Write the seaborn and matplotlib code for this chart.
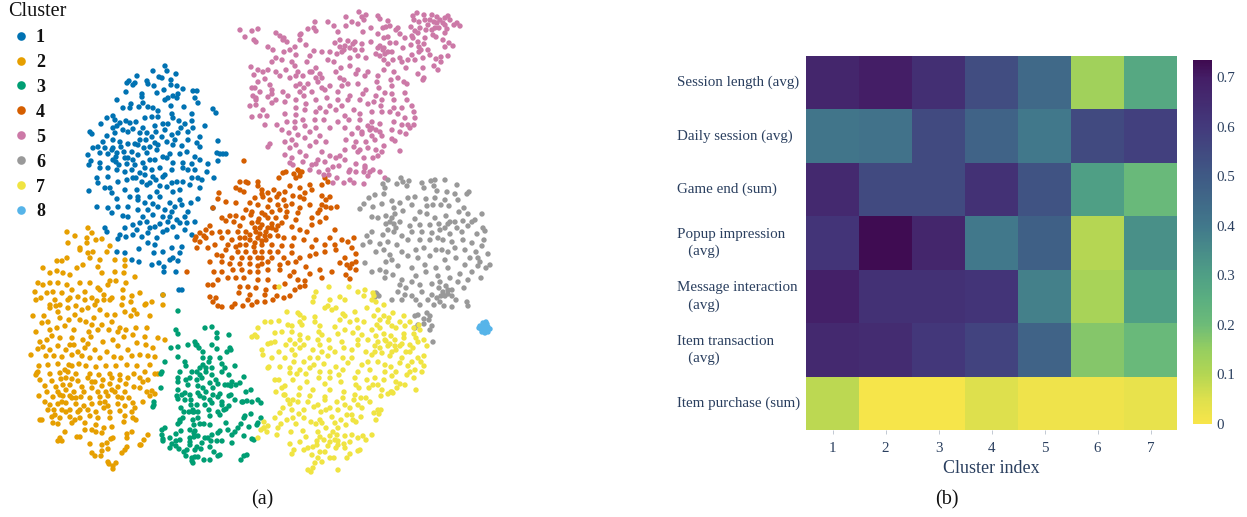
import pandas as pd
import numpy as np
import matplotlib.pyplot as plt
import seaborn as sns
from matplotlib.colors import LinearSegmentedColormap

sns.set_theme(style="white")
plt.rcParams['font.family'] = ['Liberation Serif', 'DejaVu Serif']

TEXT = "#2a3f5f"

# t-SNE points (image pixel coordinates)
cluster_1 = [(165,66),(153,71),(167,71),(176,74),(137,76),(159,77),(162,78),(171,80),(147,81),(129,81),(127,83),(135,83),(133,85),(148,84),(154,86),(177,86),(171,85),(164,90),(126,92),(183,89),(193,91),(197,91),(142,94),(142,97),(157,93),(173,96),(178,94),
(117,100),(123,108),(131,104),(130,108),(143,103),(139,107),(148,107),(153,108),(158,111),(165,100),(168,98),(171,106),(177,98),(184,107),(195,98),(198,103),(213,109),(216,113),
(113,116),(115,120),(107,118),(101,124),(145,118),(152,117),(158,117),(172,114),(173,118),(192,114),(120,123),(117,126),(126,121),(130,123),(136,122),(155,126),(163,124),(179,121),(185,124),(192,121),(205,126),(90,132),(92,134),(113,128),(115,133),(123,130),(128,132),(133,129),(143,128),(140,133),(147,133),(156,132),(165,130),(193,128),(188,132),(178,133),(172,135),(200,137),
(107,136),(103,142),(113,140),(120,142),(128,144),(135,144),(138,145),(144,148),(150,147),(155,143),(162,137),(173,145),(182,146),(188,140),(197,143),(200,147),(218,141),(93,148),(98,147),(105,148),(113,148),(88,155),(100,153),(108,154),(117,153),(124,152),(132,152),(138,155),(147,153),(157,150),(163,157),(170,154),(180,154),(187,152),(195,157),(217,153),(220,154),(223,154),(226,154),(200,160),(218,161),(91,161),(89,165),(100,163),(113,160),(116,162),(125,158),
(127,164),(135,165),(143,163),(155,160),(167,158),(173,163),(183,163),(192,164),(208,164),(100,168),(108,168),(117,170),(132,170),(140,173),(152,170),(160,168),(172,170),(183,168),(188,170),(195,170),(207,172),(97,178),(98,183),(108,177),(118,182),(127,180),(133,178),(145,175),(153,177),(163,177),(177,182),(183,182),(192,178),(198,178),(202,180),(214,178),
(105,188),(110,188),(112,193),(125,190),(137,190),(147,185),(157,192),(167,187),(173,192),(180,190),(190,185),(200,188),(89,191),(117,199),(130,197),(138,197),(150,197),(160,197),(170,203),(180,200),(191,203),(198,199),(97,207),(108,208),(118,207),(128,207),(138,210),(148,210),(158,207),(172,212),(182,205),(213,208),
(112,213),(123,216),(128,217),(143,217),(153,215),(163,217),(170,217),(177,220),(185,217),(105,228),(107,232),(133,225),(137,230),(147,222),(155,227),(163,232),(173,227),(187,223),(195,222),(118,239),(126,237),(133,235),(142,237),(148,233),(157,238),(167,230),(177,237),(185,230),(192,235),
(117,252),(125,253),(132,260),(139,262),(139,249),(148,243),(155,245),(154,253),(163,252),(172,248),(182,247),(173,258),(170,260),(180,253),(152,265),(159,263),(164,267),(164,272),(176,272),(178,261),(179,290),(182,290),(163,295),
(112,150),(116,157),(121,147),(128,158),(133,160),(119,165),(125,172),(136,178),(142,182),(150,183),(156,180),(160,186),(140,140),(146,140),(152,137),(158,145),(167,142),(175,140),(181,128),(168,124),(150,160),(145,168),(165,175),(172,183),(138,200),(145,203),(153,204),(165,210),(175,207),(188,212),(140,223),(150,228),(160,224),(168,222),(180,223),(125,228),(120,235)]

cluster_2 = [(67,232),(75,236),(68,243),(88,228),(92,233),(87,238),(87,243),(96,240),(102,239),(110,246),(80,248),
(67,258),(57,261),(62,261),(88,253),(93,252),(80,250),(107,252),(115,260),(100,260),(125,260),(125,266),(98,267),(90,258),(43,268),(50,273),(57,271),(63,273),(77,268),(83,265),(115,272),(124,273),(135,277),(70,275),(102,273),
(38,283),(43,285),(50,283),(58,283),(67,285),(80,283),(90,283),(98,288),(110,281),(116,281),(126,283),(123,290),(35,292),(47,293),(53,292),(62,293),(72,290),(85,292),(104,295),(36,300),(41,298),(70,298),(78,297),(92,298),(110,300),(123,298),(132,296),(140,293),
(50,305),(56,306),(68,300),(76,306),(97,301),(104,300),(112,298),(122,305),(131,302),(146,304),(152,302),(163,305),(33,316),(44,316),(50,308),(58,312),(68,308),(82,310),(88,308),(100,310),(107,315),(115,315),(125,312),(134,310),(145,305),(163,295),
(42,323),(48,322),(60,318),(69,320),(80,320),(86,322),(94,318),(102,325),(112,322),(120,328),(131,316),(137,314),(150,316),(36,332),(50,330),(57,328),(65,326),(74,330),(89,332),(98,330),(109,330),(118,332),(126,330),(136,328),(147,328),(40,342),(47,340),(52,336),(60,338),(72,338),(83,340),(91,337),(103,342),(113,340),(124,337),(133,335),(145,337),(158,338),
(38,349),(43,347),(50,350),(58,346),(66,350),(74,345),(85,348),(95,350),(107,352),(118,346),(128,350),(137,343),(146,345),(153,348),(165,340),(31,355),(46,356),(54,356),(62,357),(72,355),(82,356),(90,358),(100,358),(114,357),(121,358),(132,356),(140,355),(148,356),(155,357),
(39,366),(48,365),(58,364),(69,365),(79,364),(86,366),(96,367),(106,366),(116,366),(127,365),(137,366),(150,365),(38,372),(50,374),(60,373),(68,372),(76,374),(90,374),(99,375),(110,374),(120,375),(134,374),(145,372),(37,373),(36,375),(155,374),(158,374),
(40,380),(52,381),(61,379),(66,378),(72,379),(78,381),(88,378),(92,382),(103,380),(112,378),(120,380),(128,378),(140,378),(148,380),(45,386),(56,387),(63,385),(70,385),(82,387),(92,388),(102,386),(110,384),(118,387),(126,384),(134,387),(143,382),
(47,392),(58,392),(66,390),(74,392),(84,392),(98,392),(106,392),(115,392),(125,392),(140,388),(39,396),(53,397),(63,396),(72,398),(81,397),(90,398),(100,397),(108,396),(118,397),(129,398),(152,391),(155,394),(147,392),
(45,402),(50,405),(58,404),(66,403),(76,404),(84,406),(92,404),(100,403),(108,406),(118,404),(125,406),(133,403),(143,402),(150,396),(54,410),(62,410),(70,410),(80,410),(96,412),(104,408),(110,412),(120,411),(135,408),(42,420),(52,417),(60,418),(70,417),(80,418),(90,416),(98,418),(110,418),(125,416),(132,412),(136,420),(40,420),
(53,423),(58,424),(72,423),(75,420),(85,423),(96,425),(124,422),(133,418),(65,432),(92,430),(96,432),(102,433),(104,428),(112,427),(127,438),(127,434),(132,432),(148,435),(60,438),(58,441),(62,441),(77,437),(80,437),(111,439),(113,438),(144,440),(140,445),(141,445),
(90,444),(102,445),(107,443),(102,451),(108,449),(125,450),(127,447),(122,453),(92,453),(95,456),(101,456),(108,462),(116,463),(113,466),(113,469),(109,464),
(55,300),(60,305),(85,300),(100,290),(108,285),(95,305),(75,315),(92,325),(70,345),(78,352),(88,344),(65,370),(72,366),(95,382),(62,402),(70,396),(78,412),(88,410),(66,412),(76,398),(112,390),(122,398),(105,402),(85,430),(55,415),(60,395),(48,410)]

cluster_3 = [(205,328),(217,333),(178,334),(171,348),(178,347),(195,342),(217,338),(229,335),(178,357),(188,345),(197,345),(212,345),(231,350),(199,348),(203,352),(217,349),(165,362),(196,345),(203,358),(210,358),(220,358),(227,352),(186,366),(185,362),(203,365),(209,362),(222,364),(230,348),
(200,368),(206,368),(212,368),(197,372),(192,372),(225,368),(235,366),(200,375),(206,372),(212,375),(222,372),(180,372),(178,378),(186,380),(162,372),(161,374),(190,378),(197,380),(202,378),(216,380),(229,375),(244,377),(178,382),(188,385),(198,386),(210,383),(218,384),(232,382),(236,385),(161,388),(178,390),(185,393),(203,388),(213,388),(225,385),(231,386),(251,390),(240,383),
(190,395),(198,393),(206,392),(213,395),(220,394),(228,385),(177,396),(182,395),(191,400),(200,396),(204,398),(210,400),(218,397),(229,396),(231,395),(246,392),(178,399),(185,400),(191,405),(197,405),(205,405),(212,403),(222,402),(235,400),(243,402),(252,402),(258,400),(181,408),(184,412),(193,410),(198,412),(209,410),(218,412),(224,410),(222,405),(229,406),(242,402),(247,401),(261,403),(189,412),(193,412),
(180,420),(183,418),(194,412),(198,418),(193,420),(210,416),(220,415),(226,409),(245,416),(244,418),(251,414),(261,418),(258,423),(178,424),(180,422),(200,424),(204,424),(210,425),(226,423),(241,424),(249,427),(257,425),(194,425),(195,431),(190,430),(198,436),(190,438),(194,437),(181,431),(176,434),(205,438),(212,435),(235,432),(238,428),(218,433),(244,436),
(165,428),(162,430),(162,435),(163,439),(180,440),(190,442),(194,433),(211,441),(220,431),(228,430),(232,435),(170,438),(176,441),(172,444),(179,449),(190,445),(197,447),(202,443),(208,438),(217,441),(222,441),(232,443),(252,439),(254,440),(163,441),(170,448),(176,446),(187,450),(195,450),(201,449),(210,447),(214,452),(220,455),(241,460),(244,456),(247,455),(184,452),(186,456),(192,458),(198,457),(204,460),(210,460),(218,456),(192,461),(193,463),(195,457),(154,402),(154,405),(153,407),(212,327),(178,311),(176,330)]

cluster_4 = [(244,161),(283,173),(286,172),(294,174),(300,172),(296,178),(302,172),(298,170),(325,178),(300,176),(240,182),(246,182),(248,183),(236,188),(240,190),(258,182),(258,186),(262,190),(274,190),(279,178),(290,186),(310,185),(322,185),(328,182),(244,192),(262,194),(268,193),(279,194),(285,192),(305,193),(312,190),(300,188),(219,193),(218,199),
(255,198),(263,197),(270,200),(277,197),(284,200),(293,196),(300,197),(304,199),(322,196),(322,205),(330,197),(226,202),(236,203),(250,203),(258,205),(268,207),(278,205),(292,204),(300,208),(310,205),(326,200),(213,208),(246,210),(252,212),(262,213),(272,212),(287,212),(298,213),(320,210),(326,207),(337,207),(331,208),(230,216),(236,216),(243,218),(251,215),(259,219),(268,218),(276,218),(286,217),(296,220),(312,218),(318,213),
(234,222),(240,226),(252,223),(262,225),(272,224),(282,223),(292,227),(312,225),(320,222),(326,218),(222,218),(226,221),(210,226),(206,230),(200,233),(196,237),(204,236),(212,233),(220,232),(228,232),(238,232),(246,232),(256,232),(266,232),(276,230),(300,230),(307,232),(335,230),(206,238),(195,240),(222,238),(232,240),(240,238),(250,240),(258,238),(266,240),(284,238),(294,238),(304,240),(316,240),(330,238),(342,240),(354,238),
(228,245),(236,247),(246,245),(254,247),(262,245),(272,245),(282,246),(292,246),(312,247),(325,245),(335,245),(348,242),(352,248),(215,245),(208,248),(197,248),(200,242),(226,250),(238,252),(246,252),(255,252),(262,252),(270,252),(278,252),(292,253),(316,254),(325,252),(336,250),(356,254),(217,255),(222,256),(232,258),(242,258),(250,258),(258,258),(272,258),(284,258),(300,258),(310,256),(345,258),(356,262),(210,262),(222,262),(230,264),(240,264),(250,264),(258,266),(262,264),(280,265),(288,263),(296,262),(306,267),(340,263),(347,265),(214,272),(222,272),(233,270),(242,270),(250,272),(258,272),(268,270),(280,270),(294,272),(320,270),(332,272),(350,268),(356,270),
(218,280),(228,278),(236,278),(244,278),(258,280),(268,280),(290,276),(298,280),(310,274),(322,278),(346,275),(350,279),(352,264),(240,287),(248,287),(256,288),(266,290),(275,287),(285,284),(295,290),(305,286),(213,285),(208,285),(239,293),(250,295),(265,295),(277,296),(284,298),(290,296),(210,297),(216,298),(248,300),(257,302),(265,302),(273,300),(300,287),(305,281),(213,302),(218,306),(222,307),(232,307),(235,304),(243,306),(252,305),(187,272),
(255,228),(260,228),(265,236),(270,236),(262,241),(255,243),(260,234),(272,228),(278,236),(250,235),(258,222),(268,228),(280,210),(286,206),(265,215),(278,226),(245,238),(240,245),(262,258),(268,262)]

cluster_5 = [(359,12),(362,17),(366,15),(378,16),(380,19),(388,21),(346,17),(413,16),(417,13),(414,20),(419,22),(424,15),(432,15),(437,17),(445,18),(448,16),(434,22),(428,25),(420,28),(426,30),(437,23),(443,23),(450,20),(457,23),(460,26),(454,25),(447,29),(439,28),(445,33),(433,35),(425,38),(418,33),(412,36),(411,27),(415,31),(424,44),(428,50),(436,37),(443,40),(449,43),(453,46),(413,38),(419,47),(421,50),
(315,22),(328,22),(334,26),(346,26),(352,22),(358,24),(364,20),(371,28),(383,28),(386,27),(390,26),(398,28),(240,30),(252,31),(258,29),(254,40),(256,42),(301,34),(308,29),(314,28),(316,31),(338,32),(363,32),(378,34),(384,38),(388,37),(405,38),(400,34),(396,30),(411,45),(418,42),(245,37),(276,33),(280,36),(284,38),(300,40),(306,45),(335,43),(340,40),(348,41),(355,42),(362,44),(371,42),(380,46),(390,43),(396,43),(403,48),(412,55),(419,52),(423,58),(430,55),(436,59),(445,47),(441,57),(448,56),
(283,40),(287,42),(300,35),(295,47),(314,51),(342,52),(353,44),(362,50),(378,48),(392,52),(400,58),(408,60),(415,60),(423,68),(434,66),(441,62),(268,47),(273,50),(284,52),(290,50),(296,55),(310,56),(322,52),(330,52),(337,54),(344,50),(350,58),(358,56),(366,58),(376,54),(384,60),(393,60),(402,62),(272,62),(276,58),(282,60),(292,62),(295,66),(307,62),(316,68),(328,60),(334,62),(341,68),(350,66),(358,70),(368,72),(384,70),(388,64),(394,72),(406,68),(418,74),(423,80),(424,78),(438,70),
(251,67),(258,70),(263,72),(268,70),(276,72),(286,70),(298,72),(303,76),(312,72),(320,74),(340,78),(344,80),(356,74),(365,76),(378,76),(391,80),(392,86),(398,78),(404,82),(407,84),(254,75),(258,82),(265,79),(270,85),(280,76),(290,78),(300,84),(308,84),(318,82),(322,78),(336,72),(342,86),(348,84),(358,84),(366,90),(379,88),(272,90),(272,94),(283,92),(296,86),(300,92),(312,92),(325,90),(338,92),(350,96),(363,94),(377,82),(376,96),(382,100),(255,88),(256,98),(260,92),(268,97),(276,100),(288,96),(296,100),(304,96),(316,100),(327,98),(338,100),(348,100),(360,100),(374,102),(385,93),(392,94),(394,100),(405,93),(407,100),(256,105),(250,106),(256,100),
(253,96),(252,88),(263,110),(267,116),(272,103),(285,102),(296,108),(306,104),(320,108),(330,106),(342,106),(354,110),(368,104),(381,106),(394,108),(402,108),(412,106),(414,112),(415,118),(285,114),(296,115),(305,110),(316,112),(326,112),(336,110),(345,116),(360,114),(372,112),(382,112),(390,112),(398,114),(405,118),(414,125),(287,122),(295,122),(303,120),(315,120),(324,120),(338,122),(349,120),(360,120),(372,122),(380,124),(394,122),(402,125),(408,125),(410,128),(265,125),(252,117),(260,116),
(277,125),(282,130),(295,128),(305,126),(316,128),(330,128),(345,128),(358,128),(370,130),(380,132),(392,130),(400,132),(406,134),(289,133),(298,135),(310,132),(320,136),(352,134),(362,134),(372,136),(382,136),(392,139),(285,142),(292,140),(296,145),(305,138),(316,142),(326,142),(346,140),(356,142),(366,142),(375,140),(395,141),(270,144),(268,147),(345,150),(354,147),(360,150),(368,148),(376,150),(384,146),(290,148),(300,152),(310,146),(322,152),(340,156),(358,152),(364,158),(382,152),(400,151),
(285,155),(292,158),(306,156),(318,160),(330,156),(345,160),(356,164),(365,166),(373,158),(378,156),(303,162),(316,164),(325,162),(336,158),(312,165),(339,166),(350,170),(356,172),(365,168),(370,172),(373,170),(290,163),(293,165),(310,170),(319,172),(328,170),(333,167),(337,178),(324,175),(329,175),(350,180),(364,172),(368,176),(349,172),(344,183),(333,183),(354,183),(364,184),(380,172),(385,178),
(345,46),(350,48),(355,50),(340,47),(383,50),(385,54),(380,56),(388,52),(384,48),(425,20),(430,20),(435,28),(440,20),(432,30),(445,25),(310,72),(316,78),(322,88),(330,86),(296,76),(304,88),(362,132),(368,126),(372,128),(376,130)]

cluster_6 = [(385,188),(383,184),(388,180),(397,184),(401,178),(407,186),(403,182),(409,181),(431,181),(435,180),(445,180),(457,185),(422,183),(424,188),(434,186),(437,191),(447,192),(455,194),(467,194),(469,192),(369,198),(375,195),(384,194),(392,201),(408,198),(415,197),(426,199),(435,198),(445,200),(458,200),(464,208),(360,209),(364,204),(373,207),(382,204),(394,208),(400,203),(412,205),(420,212),(427,206),(433,205),(441,205),(449,206),(459,212),(468,214),
(372,217),(378,218),(386,216),(395,214),(403,211),(415,219),(427,214),(435,218),(446,216),(455,222),(463,221),(475,220),(482,214),(386,224),(394,224),(400,222),(410,226),(420,225),(430,225),(439,224),(448,224),(457,228),(468,226),(472,222),(483,228),(485,231),(367,236),(372,232),(383,235),(394,232),(402,236),(412,232),(422,232),(432,233),(440,230),(450,234),(462,232),(477,234),(363,245),(370,242),(380,244),(388,242),(397,245),(408,240),(420,240),(430,240),(443,240),(452,242),(463,240),(472,243),(482,246),(484,240),
(376,252),(384,250),(390,255),(402,252),(416,250),(424,248),(436,250),(448,252),(455,248),(465,250),(476,252),(386,262),(392,260),(408,256),(418,258),(430,256),(445,260),(456,258),(470,258),(478,258),(488,254),(480,262),(490,265),(365,263),(372,272),(380,270),(386,272),(398,266),(412,268),(425,265),(436,268),(448,268),(465,265),(478,266),(486,268),(385,278),(393,275),(402,280),(416,276),(426,272),(438,276),(450,278),(460,274),(472,272),(481,278),(400,285),(406,288),(412,282),(420,285),(432,284),(440,282),(448,290),(458,282),(468,280),(464,288),(405,295),(412,296),(416,300),(422,292),(432,295),(439,288),(445,296),(452,296),(402,300),(392,300),(398,292),(379,296),(377,294),(420,305),(428,300),(434,305),(441,296),(427,313),(418,315),(424,319),(429,320),(424,324),(415,316),(418,325),(430,316),(432,326),(430,330),(415,328),(433,342),(376,293),(375,297),(456,300),(452,307),(468,306),(467,302),
(446,286),(448,294),(443,292),(452,290),(437,298),(440,302),(444,306),(390,222),(396,228),(392,218),(388,230),(450,222),(445,228),(438,238),(442,250)]

cluster_7 = [(329,287),(349,287),(358,292),(365,290),(364,296),(374,296),(373,293),(372,300),(376,302),(279,287),(314,297),(316,292),(340,297),(330,300),(345,300),(313,302),(332,310),(336,308),(355,312),(367,308),(378,310),(384,305),(287,312),(298,313),(300,315),(325,308),(328,306),(300,322),(304,318),(343,314),(357,320),(374,316),(384,316),(389,318),(393,313),(404,316),(265,322),(271,322),(279,321),(315,322),(315,317),(340,320),(345,316),(350,322),(364,322),(377,325),(380,320),(388,322),(400,322),(410,322),(419,325),(258,328),(288,325),(292,326),(302,325),(320,326),(335,327),(345,330),(358,328),(372,330),(380,328),(392,326),(396,328),(405,326),(414,328),(420,330),
(255,335),(275,333),(282,332),(292,332),(300,335),(319,332),(322,335),(338,334),(353,333),(362,335),(376,336),(384,334),(391,336),(404,334),(414,334),(416,338),(252,337),(257,337),(290,340),(300,340),(308,338),(318,340),(329,340),(342,342),(358,340),(368,340),(378,342),(386,341),(395,340),(404,338),(410,345),(424,340),(427,346),(268,344),(271,343),(275,342),(286,345),(295,344),(304,345),(320,345),(330,348),(344,348),(358,345),(375,346),(388,346),(396,350),(406,352),(413,348),(418,342),(262,350),(263,355),(279,352),(292,350),(300,348),(313,350),(322,352),(335,352),(352,350),(366,352),(382,353),(390,356),(402,358),(418,358),(272,358),(285,358),(295,355),(310,358),(318,358),(328,356),(343,358),(352,358),(372,355),(378,362),(385,365),(400,363),(412,362),(424,356),
(269,367),(280,367),(294,362),(304,362),(314,365),(324,364),(336,367),(348,363),(362,365),(368,362),(391,367),(408,366),(421,362),(424,366),(268,368),(290,368),(300,370),(310,368),(320,372),(330,372),(343,370),(358,372),(370,370),(385,372),(396,372),(410,372),(415,370),(422,372),(290,373),(297,374),(306,374),(319,378),(330,378),(339,375),(355,378),(375,378),(392,376),(407,375),(275,380),(279,380),(293,380),(307,382),(325,384),(341,382),(356,385),(367,380),(373,385),(384,380),(396,382),(400,384),(414,378),(282,388),(285,386),(300,388),(313,390),(330,390),(344,392),(359,388),(369,388),(378,385),(391,392),(405,385),(416,390),
(276,392),(284,395),(299,395),(310,396),(325,397),(343,398),(355,395),(366,398),(381,396),(388,394),(397,388),(290,404),(298,402),(308,402),(318,405),(325,400),(337,402),(354,400),(361,398),(370,402),(382,390),(285,395),(288,400),(293,400),(330,408),(345,405),(358,405),(378,410),(393,393),(292,410),(304,410),(314,407),(326,410),(338,410),(350,408),(362,408),(392,392),(280,413),(299,414),(321,412),(347,415),(361,417),(379,414),(287,420),(293,418),(304,418),(320,420),(332,417),(341,420),(353,420),(374,413),(381,410),(275,418),(283,408),(281,424),(296,424),(311,422),(322,423),(335,423),(352,415),(376,420),(267,432),(268,426),(278,428),(291,432),(303,431),(316,424),(326,428),(338,428),(346,425),(356,422),(261,430),(264,428),(264,422),(277,435),(300,442),(306,437),(318,432),(333,432),(345,436),(352,435),(358,438),(372,435),(366,440),(324,440),(337,435),(317,441),(330,442),(338,441),(350,442),(363,436),
(290,444),(294,450),(308,448),(317,445),(328,446),(336,448),(345,448),(360,450),(292,454),(304,450),(313,447),(320,452),(330,458),(350,454),(358,451),(312,455),(318,458),(325,452),(334,458),(347,458),(315,463),(322,462),(338,470),(308,470),(311,472),(313,468),(258,438),(264,428),
(385,340),(390,344),(395,346),(400,346),(375,352),(380,348),(402,344),(392,352),(410,352),(330,436),(335,440),(320,437),(338,445),(344,444)]

cluster_8 = [(484,325),(486,322),(482,327),(485,327),(488,327),(481,329),(484,330),(487,330),(482,332),(485,333),(488,332),(480,326),(479,328),(490,329),(483,323),(487,324)]

cluster_ids = ["1", "2", "3", "4", "5", "6", "7", "8"]
cluster_points = [cluster_1, cluster_2, cluster_3, cluster_4, cluster_5, cluster_6, cluster_7, cluster_8]
cluster_colors = ["#0072B2", "#E69F00", "#009E73", "#D55E00", "#CC79A7", "#999999", "#F0E442", "#56B4E9"]

features = ["Session length (avg)", "Daily session (avg)", "Game end (sum)",
            "Popup impression\n   (avg)", "Message interaction\n   (avg)",
            "Item transaction\n   (avg)", "Item purchase (sum)"]
cluster_index = [1, 2, 3, 4, 5, 6, 7]
session_length = [0.67, 0.70, 0.64, 0.54, 0.45, 0.13, 0.27]
daily_session = [0.41, 0.42, 0.55, 0.47, 0.40, 0.55, 0.58]
game_end = [0.66, 0.55, 0.55, 0.63, 0.52, 0.30, 0.21]
popup_impression = [0.62, 0.73, 0.67, 0.40, 0.48, 0.10, 0.34]
message_interaction = [0.69, 0.63, 0.63, 0.62, 0.38, 0.12, 0.30]
item_transaction = [0.66, 0.65, 0.61, 0.57, 0.47, 0.17, 0.21]
item_purchase = [0.09, 0.005, 0.005, 0.05, 0.02, 0.02, 0.03]

# colour scale sampled from the colour bar
scale_vmax = 0.735
scale_stops = [0, 0.05, 0.1, 0.15, 0.2, 0.25, 0.3, 0.35, 0.4, 0.5, 0.6, 0.7, 0.735]
scale_colors = ["#F8E54A", "#DDE04D", "#B3D653", "#95CE60", "#6DBB78", "#5BAF80", "#4F9F85",
                "#488C89", "#41788B", "#3F5A85", "#433A7C", "#441E66", "#3F0A50"]

W, H = 1247, 517
fig = plt.figure(figsize=(W / 100, H / 100), dpi=100)


def px_axes(x0, y0, x1, y1):
    return fig.add_axes([x0 / W, 1 - y1 / H, (x1 - x0) / W, (y1 - y0) / H])


# (a) scatter, axes cover the left part with pixel-like data units
ax1 = px_axes(0, 0, 620, H)
rows = []
for cid, pts in zip(cluster_ids, cluster_points):
    for x, y in pts:
        rows.append((x, y, cid))
df = pd.DataFrame(rows, columns=["x", "y", "Cluster"])
sns.scatterplot(data=df, x="x", y="y", hue="Cluster", hue_order=cluster_ids,
                palette=cluster_colors, s=15, linewidth=0, ax=ax1)
ax1.set_xlim(0, 620)
ax1.set_ylim(H, 0)
ax1.set_axis_off()
leg = ax1.legend(loc="upper left", bbox_to_anchor=(7 / 620, 0.998), frameon=False, title="Cluster",
                 markerscale=1.6, labelspacing=0.44, handletextpad=0.11, borderaxespad=0.0,
                 borderpad=0.05, handlelength=1.44, prop={"size": 13, "weight": "bold"},
                 title_fontsize=14.5)
leg._legend_box.align = "left"
leg.get_title().set_color("#111111")
for t in leg.get_texts():
    t.set_color("#111111")
ax1.text(262, 500, "(a)", ha="center", va="center", fontsize=14.5, color="#111111")

# (b) heatmap
ax2 = px_axes(806, 56, 1177, 430)
cax = px_axes(1193, 60, 1212, 424)
matrix = pd.DataFrame([session_length, daily_session, game_end, popup_impression,
                       message_interaction, item_transaction, item_purchase],
                      index=features, columns=cluster_index)
scale = LinearSegmentedColormap.from_list(
    "bar", [(s / scale_vmax, c) for s, c in zip(scale_stops, scale_colors)])
sns.heatmap(matrix, cmap=scale, vmin=0, vmax=scale_vmax, ax=ax2, cbar_ax=cax, linewidths=0)
ax2.tick_params(axis="y", length=0, pad=93, labelsize=10.8, labelcolor=TEXT, labelrotation=0)
for lab in ax2.get_yticklabels():
    lab.set_ha("left")
    lab.set_linespacing(1.4)
ax2.tick_params(axis="x", length=3, width=0.6, color="#b8c0cc", labelsize=10.8, labelcolor=TEXT, pad=6)
ax2.tick_params(bottom=True)
ax2.set_xlabel("Cluster index", fontsize=13, color=TEXT, labelpad=3)
ax2.set_ylabel("")

cax.set_yticks([0, 0.1, 0.2, 0.3, 0.4, 0.5, 0.6, 0.7])
cax.set_yticklabels(["0", "0.1", "0.2", "0.3", "0.4", "0.5", "0.6", "0.7"])
cax.tick_params(length=0, pad=3, labelsize=10.8, labelcolor=TEXT)

fig.text(947 / W, 1 - 500 / H, "(b)", ha="center", va="center", fontsize=14.5, color="#111111")

fig.savefig("out.png", dpi=100)
